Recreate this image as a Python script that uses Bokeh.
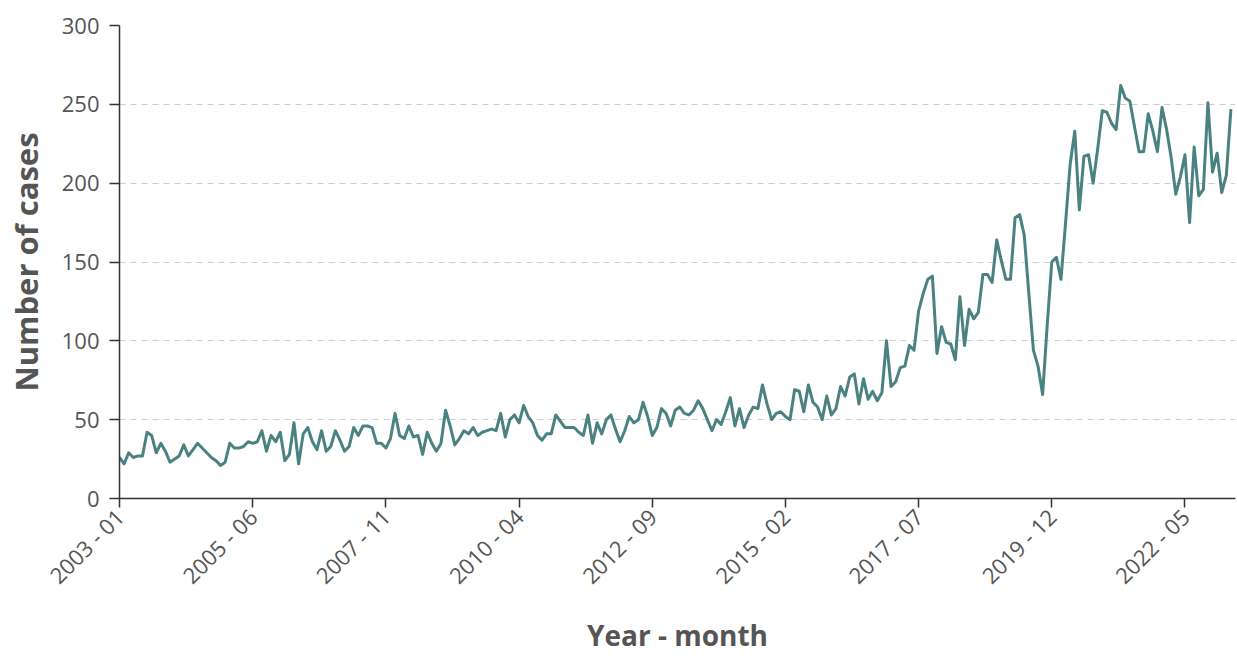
from bokeh.plotting import figure
from bokeh.models import FixedTicker, Range1d, ColumnDataSource
from bokeh.embed import file_html
from bokeh.resources import INLINE
import math

# Monthly case counts, 2003-01 onwards
values = [
    26, 22, 29, 26, 27, 27, 42, 40, 29, 35,
    30, 23, 25, 27, 34, 27, 31, 35, 32, 29,
    26, 24, 21, 23, 35, 32, 32, 33, 36, 35,
    36, 43, 30, 40, 36, 42, 24, 28, 48, 22,
    41, 45, 36, 31, 43, 30, 33, 43, 37, 30,
    33, 45, 40, 46, 46, 45, 35, 35, 32, 38,
    54, 40, 38, 46, 39, 40, 28, 42, 35, 30,
    35, 56, 46, 34, 38, 43, 41, 45, 40, 42,
    43, 44, 43, 54, 39, 50, 53, 48, 59, 52,
    48, 40, 37, 41, 41, 53, 49, 45, 45, 45,
    42, 40, 53, 35, 48, 41, 50, 53, 44, 36,
    43, 52, 48, 50, 61, 52, 40, 45, 57, 54,
    46, 56, 58, 54, 53, 56, 62, 57, 50, 43,
    50, 47, 55, 64, 46, 57, 45, 53, 58, 57,
    72, 60, 50, 54, 55, 52, 50, 69, 68, 55,
    72, 61, 58, 50, 65, 53, 57, 71, 65, 77,
    79, 60, 76, 63, 68, 62, 67, 100, 71, 74,
    83, 84, 97, 94, 119, 130, 139, 141, 92, 109,
    99, 98, 88, 128, 97, 120, 114, 118, 142, 142,
    137, 164, 151, 139, 139, 178, 180, 167, 130, 94,
    84, 66, 110, 150, 153, 139, 175, 212, 233, 183,
    217, 218, 200, 222, 246, 245, 238, 234, 262, 254,
    252, 236, 220, 220, 244, 233, 220, 248, 234, 216,
    193, 204, 218, 175, 223, 192, 196, 251, 207, 219,
    194, 205, 247,
]

tick_positions = [0, 29, 58, 87, 116, 145, 174, 203, 232]
tick_labels = ["2003 - 01", "2005 - 06", "2007 - 11", "2010 - 04", "2012 - 09",
               "2015 - 02", "2017 - 07", "2019 - 12", "2022 - 05"]
y_ticks = [0, 50, 100, 150, 200, 250, 300]

month_index = list(range(len(values)))
src = ColumnDataSource(data=dict(x=month_index, y=values))

p = figure(width=1237, height=657, output_backend="svg", toolbar_location=None,
           x_range=Range1d(0, 243), y_range=Range1d(0, 300),
           min_border_left=119, min_border_top=25, min_border_right=2,
           min_border_bottom=159)
p.outline_line_color = None
p.background_fill_color = "white"

p.line("x", "y", source=src, line_color="#4a8282", line_width=3, line_join="round")

FONT = "Open Sans"
# X axis
xa = p.xaxis[0]
xa.ticker = FixedTicker(ticks=tick_positions)
xa.major_label_overrides = {t: l for t, l in zip(tick_positions, tick_labels)}
xa.major_label_orientation = math.pi / 4
xa.minor_tick_line_color = None
xa.major_tick_out = 9
xa.major_tick_in = 0
xa.major_label_standoff = 5
xa.axis_line_color = "#333333"
xa.axis_line_width = 1.5
xa.major_tick_line_color = "#333333"
xa.major_tick_line_width = 1.5
xa.major_label_text_font = FONT
xa.major_label_text_font_size = "22px"
xa.major_label_text_color = "#555555"
xa.axis_label = "Year - month"
xa.axis_label_text_font = FONT
xa.axis_label_text_font_style = "bold"
xa.axis_label_text_font_size = "28px"
xa.axis_label_text_color = "#555555"
xa.axis_label_standoff = 13

# Y axis
ya = p.yaxis[0]
ya.ticker = FixedTicker(ticks=y_ticks)
ya.minor_tick_line_color = None
ya.major_tick_out = 10
ya.major_tick_in = 0
ya.major_label_standoff = 10
ya.axis_line_color = "#333333"
ya.axis_line_width = 1.5
ya.major_tick_line_color = "#333333"
ya.major_tick_line_width = 1.5
ya.major_label_text_font = FONT
ya.major_label_text_font_size = "22px"
ya.major_label_text_color = "#555555"
ya.axis_label = "Number of cases"
ya.axis_label_text_font = FONT
ya.axis_label_text_font_style = "bold"
ya.axis_label_text_font_size = "31px"
ya.axis_label_text_color = "#555555"
ya.axis_label_standoff = 12

p.xgrid.grid_line_color = None
p.ygrid.ticker = FixedTicker(ticks=y_ticks)
p.ygrid.grid_line_color = "#cccccc"
p.ygrid.grid_line_dash = "6 5"
p.ygrid.grid_line_width = 1

open("out.html", "w").write(file_html(p, INLINE))
